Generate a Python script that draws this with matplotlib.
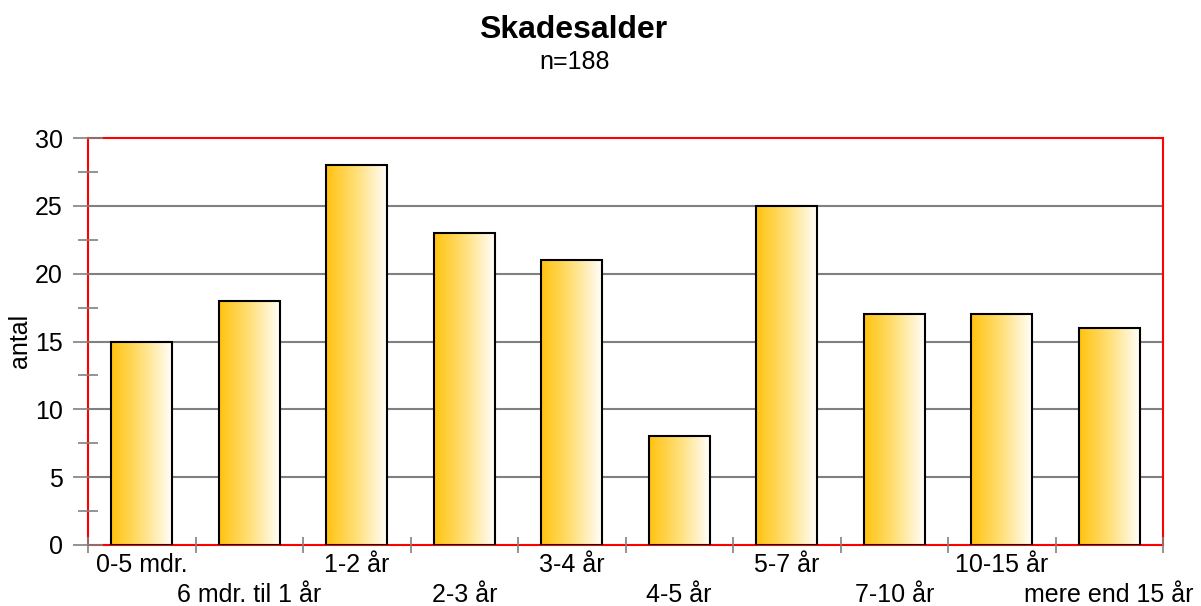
import numpy as np
import matplotlib
matplotlib.use('Agg')
import matplotlib.pyplot as plt
import matplotlib.transforms as mtransforms
from matplotlib.colors import LinearSegmentedColormap

plt.rcParams['font.family'] = ['Liberation Sans', 'DejaVu Sans']

# data
categories = ['0-5 mdr.', '6 mdr. til 1 år', '1-2 år', '2-3 år', '3-4 år',
              '4-5 år', '5-7 år', '7-10 år', '10-15 år', 'mere end 15 år']
counts = [15, 18, 28, 23, 21, 8, 25, 17, 17, 16]
yticks = [0, 5, 10, 15, 20, 25, 30]

W, H = 1201, 606
fig = plt.figure(figsize=(W / 100, H / 100), dpi=100, facecolor='white')

# axes placed in pixel terms
left, right, top, bottom = 88, 1163, 138, 545
ax = fig.add_axes([left / W, 1 - bottom / H, (right - left) / W, (bottom - top) / H])

x = np.arange(len(categories))

# horizontal gridlines (not at 0 and 30 - spines there)
for y in yticks[1:-1]:
    ax.axhline(y, color='#808080', lw=1.5, zorder=0.3)

for sp in ax.spines.values():
    sp.set_color('red')
    sp.set_linewidth(1.5)
    sp.set_zorder(0.4)
ax.set_axisbelow(True)

# gradient bars
cmap = LinearSegmentedColormap.from_list('grad', ['#FFC20E', '#FFE07A', '#FFFFFF'])
grad = np.linspace(0, 1, 256).reshape(1, -1)
bars = ax.bar(x, counts, width=0.57, facecolor='none', edgecolor='black',
              linewidth=1.5, zorder=3)
for b in bars:
    x0, w, h = b.get_x(), b.get_width(), b.get_height()
    im = ax.imshow(grad, cmap=cmap, aspect='auto', extent=[x0, x0 + w, 0, h],
                   zorder=2, interpolation='bicubic')
    im.set_clip_path(b)
ax.set_xlim(-0.5, len(categories) - 0.5)
ax.set_ylim(0, 30)

# y ticks
ax.set_yticks(yticks)
ax.set_yticks(np.arange(2.5, 30, 5), minor=True)
ax.tick_params(axis='y', which='major', direction='inout', length=21.6, width=1.2,
               color='#808080', labelsize=18, pad=7.2)
ax.tick_params(axis='y', which='minor', direction='inout', length=14.4, width=1.2,
               color='#808080')

# x ticks at slot boundaries, category labels in two staggered rows
ax.set_xticks(np.arange(-0.5, len(categories), 1.0))
ax.set_xticklabels([])
ax.tick_params(axis='x', which='major', direction='inout', length=11, width=1.2,
               color='#808080')
base = ax.get_xaxis_transform()
for i, c in enumerate(categories):
    dy = -27 if i % 2 == 0 else -57
    tr = mtransforms.offset_copy(base, fig=fig, x=0, y=dy, units='dots')
    ax.text(x[i], 0, c, transform=tr, ha='center', va='baseline', fontsize=18)

fig.text(20 / W, 1 - 341 / H, 'antal', rotation=90, ha='center', va='center', fontsize=18)
fig.text(573 / W, 1 - 30 / H, 'Skadesalder', ha='center', va='center',
         fontsize=23, fontweight='bold')
fig.text(575 / W, 1 - 62 / H, 'n=188', ha='center', va='center', fontsize=18)

fig.savefig('out.png', dpi=100, facecolor='white')
